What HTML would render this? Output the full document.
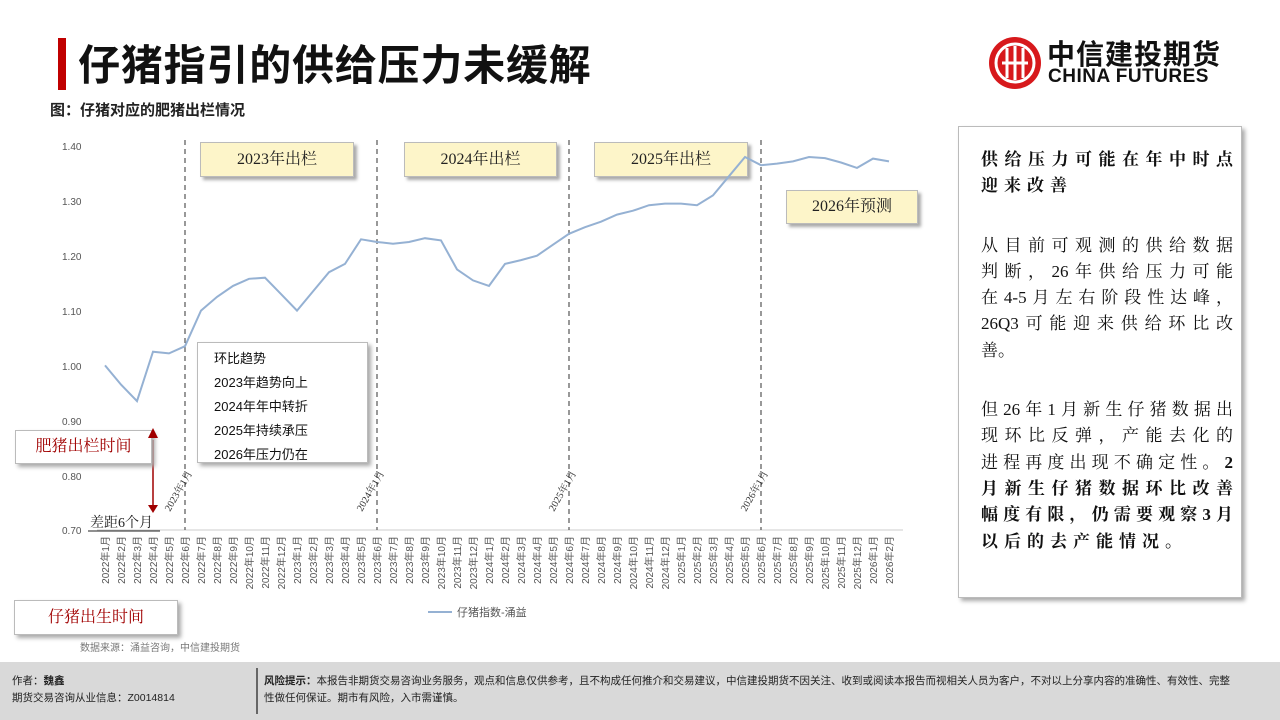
<!DOCTYPE html>
<html><head><meta charset="utf-8"><style>
body{margin:0;width:1280px;height:720px;position:relative;background:#fff;overflow:hidden;font-family:"Liberation Sans","Noto Sans CJK SC",sans-serif;}
.a{position:absolute;}
.yb{position:absolute;background:#fdf5c9;border:1px solid #bbb;box-shadow:3px 3px 3px #aaa;font-size:16px;color:#222;text-align:center;font-family:"Liberation Serif","Noto Serif CJK SC",serif;}
.wb{position:absolute;background:#fff;border:1px solid #bbb;box-shadow:3px 3px 4px #aaa;}
.j{text-align:justify;text-align-last:justify;white-space:nowrap;}
</style></head><body>
<div class="a" style="left:58px;top:38px;width:8px;height:52px;background:#c00000"></div>
<div class="a" style="left:78px;top:36px;font-size:42px;font-weight:bold;color:#111;line-height:54px;letter-spacing:0.8px;font-family:'Noto Sans CJK SC',sans-serif">仔猪指引的供给压力未缓解</div>
<div class="a" style="left:50px;top:99px;font-size:15px;font-weight:bold;color:#222">图：仔猪对应的肥猪出栏情况</div>
<svg class="a" style="left:988px;top:36px" width="56" height="56"><circle cx="27" cy="27" r="26" fill="#d7191c"/><circle cx="27" cy="27" r="19" fill="none" stroke="#fff" stroke-width="3"/><path d="M19 12v30M27 10v34M35 12v30M14 27h26" stroke="#fff" stroke-width="3"/></svg>
<div class="a" style="left:1047px;top:33px;font-size:28px;font-weight:bold;color:#111;letter-spacing:1px;font-family:'Noto Sans CJK SC',sans-serif">中信建投期货</div>
<div class="a" style="left:1048px;top:66px;font-size:19px;font-weight:bold;color:#111;letter-spacing:0.5px">CHINA FUTURES</div>

<div class="yb" style="left:200px;top:142px;width:152px;height:33px;line-height:33px">2023年出栏</div>
<div class="yb" style="left:404px;top:142px;width:151px;height:33px;line-height:33px">2024年出栏</div>
<div class="yb" style="left:594px;top:142px;width:152px;height:33px;line-height:33px">2025年出栏</div>
<div class="yb" style="left:786px;top:190px;width:130px;height:32px;line-height:32px">2026年预测</div>

<svg class="a" style="left:0;top:0" width="960" height="660" font-family="Liberation Sans,Noto Sans CJK SC,sans-serif">
<g font-size="10" fill="#555">
<text x="62" y="150">1.40</text><text x="62" y="205">1.30</text><text x="62" y="260">1.20</text><text x="62" y="315">1.10</text><text x="62" y="370">1.00</text><text x="62" y="425">0.90</text><text x="62" y="480">0.80</text><text x="62" y="534">0.70</text>
</g>
<line x1="97" y1="530" x2="903" y2="530" stroke="#ccc"/>
<g stroke="#555" stroke-dasharray="5,4" stroke-width="1.2"><line x1="185" y1="140" x2="185" y2="530"/><line x1="377" y1="140" x2="377" y2="530"/><line x1="569" y1="140" x2="569" y2="530"/><line x1="761" y1="140" x2="761" y2="530"/></g>
<g font-size="10" fill="#333" font-family="Liberation Serif,Noto Serif CJK SC,serif">
<text transform="translate(170,512) rotate(-60)">2023年1月</text>
<text transform="translate(362,512) rotate(-60)">2024年1月</text>
<text transform="translate(554,512) rotate(-60)">2025年1月</text>
<text transform="translate(746,512) rotate(-60)">2026年1月</text>
</g>
<polyline fill="none" stroke="#95b1d3" stroke-width="2" points="105,365.4 121,384.6 137,401.1 153,351.7 169,353.4 185,346.2 201,310.6 217,296.9 233,285.9 249,278.8 265,277.7 281,294.1 297,310.6 313,291.4 329,272.2 345,263.9 361,239.3 377,242 393,243.7 409,242 425,238.2 441,240.4 457,269.4 473,280.4 489,285.9 505,263.9 521,260.1 537,255.7 553,244.7 569,233.8 585,227.2 601,221.7 617,214.6 633,210.7 649,205.2 665,203.6 681,203.6 697,205.2 713,195.4 729,176.2 745,157 761,165.2 777,163.6 793,161.4 809,157 825,158.1 841,162.5 857,167.9 873,158.6 889,161.4"/>
<g font-size="10" fill="#555" text-anchor="end">
<text transform="translate(109,536) rotate(-90)">2022年1月</text><text transform="translate(125,536) rotate(-90)">2022年2月</text><text transform="translate(141,536) rotate(-90)">2022年3月</text><text transform="translate(157,536) rotate(-90)">2022年4月</text><text transform="translate(173,536) rotate(-90)">2022年5月</text><text transform="translate(189,536) rotate(-90)">2022年6月</text><text transform="translate(205,536) rotate(-90)">2022年7月</text><text transform="translate(221,536) rotate(-90)">2022年8月</text><text transform="translate(237,536) rotate(-90)">2022年9月</text><text transform="translate(253,536) rotate(-90)">2022年10月</text><text transform="translate(269,536) rotate(-90)">2022年11月</text><text transform="translate(285,536) rotate(-90)">2022年12月</text>
<text transform="translate(301,536) rotate(-90)">2023年1月</text><text transform="translate(317,536) rotate(-90)">2023年2月</text><text transform="translate(333,536) rotate(-90)">2023年3月</text><text transform="translate(349,536) rotate(-90)">2023年4月</text><text transform="translate(365,536) rotate(-90)">2023年5月</text><text transform="translate(381,536) rotate(-90)">2023年6月</text><text transform="translate(397,536) rotate(-90)">2023年7月</text><text transform="translate(413,536) rotate(-90)">2023年8月</text><text transform="translate(429,536) rotate(-90)">2023年9月</text><text transform="translate(445,536) rotate(-90)">2023年10月</text><text transform="translate(461,536) rotate(-90)">2023年11月</text><text transform="translate(477,536) rotate(-90)">2023年12月</text>
<text transform="translate(493,536) rotate(-90)">2024年1月</text><text transform="translate(509,536) rotate(-90)">2024年2月</text><text transform="translate(525,536) rotate(-90)">2024年3月</text><text transform="translate(541,536) rotate(-90)">2024年4月</text><text transform="translate(557,536) rotate(-90)">2024年5月</text><text transform="translate(573,536) rotate(-90)">2024年6月</text><text transform="translate(589,536) rotate(-90)">2024年7月</text><text transform="translate(605,536) rotate(-90)">2024年8月</text><text transform="translate(621,536) rotate(-90)">2024年9月</text><text transform="translate(637,536) rotate(-90)">2024年10月</text><text transform="translate(653,536) rotate(-90)">2024年11月</text><text transform="translate(669,536) rotate(-90)">2024年12月</text>
<text transform="translate(685,536) rotate(-90)">2025年1月</text><text transform="translate(701,536) rotate(-90)">2025年2月</text><text transform="translate(717,536) rotate(-90)">2025年3月</text><text transform="translate(733,536) rotate(-90)">2025年4月</text><text transform="translate(749,536) rotate(-90)">2025年5月</text><text transform="translate(765,536) rotate(-90)">2025年6月</text><text transform="translate(781,536) rotate(-90)">2025年7月</text><text transform="translate(797,536) rotate(-90)">2025年8月</text><text transform="translate(813,536) rotate(-90)">2025年9月</text><text transform="translate(829,536) rotate(-90)">2025年10月</text><text transform="translate(845,536) rotate(-90)">2025年11月</text><text transform="translate(861,536) rotate(-90)">2025年12月</text>
<text transform="translate(877,536) rotate(-90)">2026年1月</text><text transform="translate(893,536) rotate(-90)">2026年2月</text>
</g>
<line x1="428" y1="612" x2="452" y2="612" stroke="#95b1d3" stroke-width="2"/>
<text x="457" y="616" font-size="11" fill="#555">仔猪指数-涌益</text>
<line x1="153" y1="440" x2="153" y2="505" stroke="#a00000" stroke-width="1.5"/>
<polygon points="148,505 158,505 153,513" fill="#a00000"/>
<text x="90" y="527" font-size="14" fill="#222" font-family="Liberation Serif,Noto Serif CJK SC,serif">差距6个月</text>
<line x1="88" y1="531" x2="160" y2="531" stroke="#222"/>
<text x="80" y="651" font-size="10" fill="#777">数据来源：涌益咨询，中信建投期货</text>
</svg>

<div class="wb" style="left:197px;top:342px;width:171px;height:121px;font-size:13px;line-height:24px;color:#111;padding:4px 0 0 16px;box-sizing:border-box">环比趋势<br>2023年趋势向上<br>2024年年中转折<br>2025年持续承压<br>2026年压力仍在</div>
<div class="wb" style="left:15px;top:430px;width:135px;height:32px;line-height:32px;text-align:center;font-size:16px;color:#a00000;font-family:'Liberation Serif','Noto Serif CJK SC',serif">肥猪出栏时间</div>
<svg class="a" style="left:148px;top:428px" width="11" height="12"><polygon points="0,10 10,10 5,0" fill="#a00000"/></svg>
<div class="wb" style="left:14px;top:600px;width:162px;height:33px;line-height:33px;text-align:center;font-size:16px;color:#a00000;font-family:'Liberation Serif','Noto Serif CJK SC',serif">仔猪出生时间</div>

<div class="wb" style="left:958px;top:126px;width:284px;height:472px;padding:20px 0 0 22px;box-sizing:border-box;font-size:17px;line-height:26.3px;color:#111;font-family:'Liberation Serif','Noto Serif CJK SC',serif">
<div style="width:252px">
<div class="j"><b>供给压力可能在年中时点</b></div>
<div><b style="letter-spacing:6px">迎来改善</b></div>
<div style="height:33px"></div>
<div class="j">从目前可观测的供给数据</div>
<div class="j">判断，26年供给压力可能</div>
<div class="j">在4-5月左右阶段性达峰，</div>
<div class="j">26Q3可能迎来供给环比改</div>
<div>善。</div>
<div style="height:33px"></div>
<div class="j">但26年1月新生仔猪数据出</div>
<div class="j">现环比反弹，产能去化的</div>
<div class="j">进程再度出现不确定性。<b>2</b></div>
<div class="j"><b>月新生仔猪数据环比改善</b></div>
<div class="j"><b>幅度有限，仍需要观察3月</b></div>
<div><b style="letter-spacing:6px">以后的去产能情况。</b></div>
</div></div>

<div class="a" style="left:0;top:662px;width:1280px;height:58px;background:#d9d9d9"></div>
<div class="a" style="left:12px;top:673px;font-size:10.5px;color:#222;line-height:17px">作者：<b>魏鑫</b><br>期货交易咨询从业信息：Z0014814</div>
<div class="a" style="left:256px;top:668px;width:2px;height:46px;background:#666"></div>
<div class="a" style="left:264px;top:673px;width:975px;font-size:10.5px;color:#222;line-height:17px"><b>风险提示：</b>本报告非期货交易咨询业务服务，观点和信息仅供参考，且不构成任何推介和交易建议，中信建投期货不因关注、收到或阅读本报告而视相关人员为客户，不对以上分享内容的准确性、有效性、完整性做任何保证。期市有风险，入市需谨慎。</div>
</body></html>
